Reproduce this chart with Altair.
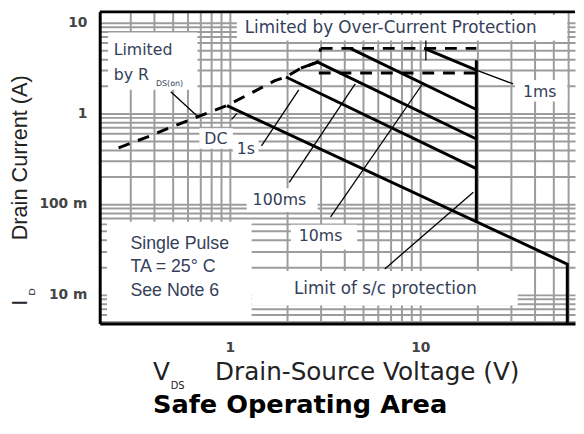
import altair as alt
import pandas as pd

# ---------------- axis ticks / grid ----------------
x_grid = [0.3, 0.4, 0.5, 0.6, 0.7, 0.8, 0.9,
          1, 2, 3, 4, 5, 6, 7, 8, 9,
          10, 20, 30, 40, 50, 60]
y_grid = [0.005, 0.006, 0.007, 0.008, 0.009,
          0.01, 0.02, 0.03, 0.04, 0.05, 0.06, 0.07, 0.08, 0.09,
          0.1, 0.2, 0.3, 0.4, 0.5, 0.6, 0.7, 0.8, 0.9,
          1, 2, 3, 4, 5, 6, 7, 8, 9, 10]
x_tick_values = [1, 10]
x_tick_text = ["1", "10"]
y_tick_values = [10, 1, 0.1, 0.01]
y_tick_text = ["10", "1", "100 m", "10 m"]

# ---------------- curves (V, A) ----------------
rds_v = [0.26, 0.367, 0.507, 0.707, 0.965, 1.33, 1.71, 1.97, 2.36, 2.89, 3.0]
rds_i = [0.417, 0.548, 0.722, 0.951, 1.22, 1.73, 2.28, 2.52, 3.16, 3.68, 5.22]
ocp_hi_v = [3.0, 19.7]
ocp_hi_i = [5.22, 5.22]
ocp_lo_v = [2.93, 19.7]
ocp_lo_i = [2.79, 2.79]

dc_v = [0.965, 59.2, 59.2]
dc_i = [1.22, 0.0217, 0.0048]
s1_v = [1.97, 19.7]
s1_i = [2.52, 0.246]
ms100_v = [2.36, 2.89, 19.7]
ms100_i = [3.16, 3.68, 0.521]
ms10_v = [4.29, 19.7]
ms10_i = [5.22, 1.105]
ms1_v = [10.5, 19.7]
ms1_i = [5.22, 3.01]
sc_v = [19.7, 19.7]
sc_i = [3.87, 0.062]

# leader lines
ld_rds_v = [0.489, 0.675, 0.742]
ld_rds_i = [1.73, 0.928, 0.975]
ld_dc_v = [1.02, 1.09]
ld_dc_i = [0.86, 1.0]
ld_1s_v = [1.465, 2.30]
ld_1s_i = [0.438, 1.82]
ld_100_v = [2.05, 4.55]
ld_100_i = [0.173, 2.12]
ld_10_v = [3.38, 10.2]
ld_10_i = [0.0722, 2.07]
ld_1ms_v = [19.7, 30.7]
ld_1ms_i = [3.01, 2.12]
ld_sc_v = [6.51, 19.0]
ld_sc_i = [0.0192, 0.135]
ld_oc_v = [10.7, 10.7]
ld_oc_i = [6.37, 3.86]

# white label boxes
box_v0 = [0.229, 1.087, 0.691, 1.036, 1.225, 2.09, 0.226, 1.30, 31.4]
box_v1 = [0.675, 59.2, 1.036, 1.413, 2.89, 4.66, 1.30, 32.5, 59.2]
box_i0 = [1.82, 6.37, 0.406, 0.324, 0.0817, 0.0315, 0.0051, 0.0076, 1.35]
box_i1 = [7.8, 12.2, 0.687, 0.509, 0.149, 0.0591, 0.0638, 0.0182, 2.34]

# annotation texts
curve_txt = ["DC", "1s", "100ms", "10ms", "1ms"]
curve_txt_v = [0.733, 1.087, 1.316, 2.30, 34.6]
curve_txt_i = [0.521, 0.407, 0.110, 0.0438, 1.73]
note_txt = ["Limited", "by R", "Limited by Over-Current Protection", "Limit of s/c protection"]
note_txt_v = [0.245, 0.245, 1.196, 2.17]
note_txt_i = [4.96, 2.65, 8.83, 0.0116]
note_txt_size = [16, 16, 17, 17]
sub_txt = ["DS(on)"]
sub_txt_v = [0.409]
sub_txt_i = [2.12]
cond_txt = ["Single Pulse", "TA = 25°  C", "See Note 6"]
cond_txt_v = [0.300, 0.300, 0.300]
cond_txt_i = [0.0358, 0.0201, 0.0110]

W, H = 482, 316
LBL = "#34405a"

xs = alt.Scale(type="log", domain=[0.207, 65])
ys = alt.Scale(type="log", domain=[0.0048, 13.2])


def expr(vals, txts):
    s = "''"
    for v, t in zip(reversed(vals), reversed(txts)):
        s = f"datum.value == {v} ? '{t}' : ({s})"
    return s


x_axis = alt.Axis(values=x_grid, labelExpr=expr(x_tick_values, x_tick_text),
                  grid=True, gridColor="#9c9c9c", gridWidth=2, ticks=False,
                  domain=True, domainColor="black", domainWidth=3,
                  labelFont="DejaVu Sans", labelFontSize=14, labelFontWeight="bold",
                  labelColor="#444", labelPadding=17, labelOverlap=False,
                  labelFlush=False, title=None)
y_axis = alt.Axis(values=y_grid, labelExpr=expr(y_tick_values, y_tick_text),
                  grid=True, gridColor="#9c9c9c", gridWidth=2, ticks=False,
                  domain=True, domainColor="black", domainWidth=3,
                  labelFont="DejaVu Sans", labelFontSize=14, labelFontWeight="bold",
                  labelColor="#444", labelPadding=13, labelOverlap=False,
                  labelFlush=False, title=None)


def X(f):
    return alt.X(f, type="quantitative", scale=xs, axis=x_axis)


def Y(f):
    return alt.Y(f, type="quantitative", scale=ys, axis=y_axis)


def seg_df(segs):
    rows = []
    for name, (vs, is_) in segs.items():
        for k, (v, i) in enumerate(zip(vs, is_)):
            rows.append({"seg": name, "k": k, "v": v, "i": i})
    return pd.DataFrame(rows)


def lines(df, width, dash=None):
    kw = dict(color="black", strokeWidth=width, clip=True, strokeJoin="miter")
    if dash:
        kw["strokeDash"] = dash
    return alt.Chart(df).mark_line(**kw).encode(
        x=X("v"), y=Y("i"), detail="seg:N", order="k:Q")


def texts(t, v, i, size, font="DejaVu Sans", color=LBL, weight="normal"):
    df = pd.DataFrame({"t": t, "v": v, "i": i})
    return alt.Chart(df).mark_text(align="left", baseline="middle", font=font,
                                   fontSize=size, color=color, fontWeight=weight).encode(
        x=X("v"), y=Y("i"), text="t:N")


boxes = alt.Chart(pd.DataFrame({"v": box_v0, "v2": box_v1, "i": box_i0, "i2": box_i1})).mark_rect(
    color="white").encode(x=X("v"), x2="v2", y=Y("i"), y2="i2")

solid = lines(seg_df({"dc": (dc_v, dc_i), "s1": (s1_v, s1_i), "m100": (ms100_v, ms100_i),
                      "m10": (ms10_v, ms10_i), "m1": (ms1_v, ms1_i), "sc": (sc_v, sc_i)}), 3)
dashed = lines(seg_df({"rds": (rds_v, rds_i), "hi": (ocp_hi_v, ocp_hi_i),
                       "lo": (ocp_lo_v, ocp_lo_i)}), 3, [12, 9])
leaders = lines(seg_df({"a": (ld_rds_v, ld_rds_i), "b": (ld_dc_v, ld_dc_i), "c": (ld_1s_v, ld_1s_i),
                        "d": (ld_100_v, ld_100_i), "e": (ld_10_v, ld_10_i), "f": (ld_1ms_v, ld_1ms_i),
                        "g": (ld_sc_v, ld_sc_i), "h": (ld_oc_v, ld_oc_i)}), 1.3)

t_curves = texts(curve_txt, curve_txt_v, curve_txt_i, 16)
t_notes = [texts([t], [v], [i], s) for t, v, i, s in zip(note_txt, note_txt_v, note_txt_i, note_txt_size)]
t_sub = texts(sub_txt, sub_txt_v, sub_txt_i, 8)
t_cond = texts(cond_txt, cond_txt_v, cond_txt_i, 18, font="Liberation Sans")

one = pd.DataFrame({"a": [0]})
top_border = alt.Chart(one).mark_rule(color="black", strokeWidth=3).encode(
    x=alt.value(0), x2=alt.value(W), y=alt.value(0))


def title_text(txt, x, y, size, weight="normal", angle=0, align="left", color="#222",
               font="DejaVu Sans", baseline="alphabetic"):
    return alt.Chart(pd.DataFrame({"t": [txt]})).mark_text(
        align=align, baseline=baseline, fontSize=size, fontWeight=weight, angle=angle,
        color=color, font=font).encode(x=alt.value(x), y=alt.value(y), text="t:N")


titles = [
    title_text("I", -81, 295, 22, angle=270, align="center", baseline="middle",
               font="Liberation Sans"),
    title_text("D", -69, 284, 10, angle=270, align="center", baseline="middle",
               font="Liberation Sans"),
    title_text("Drain Current (A)", -81, 148, 22, angle=270, align="center", baseline="middle",
               font="Liberation Sans"),
    title_text("V", 54, 373, 25),
    title_text("DS", 72, 382, 10),
    title_text("Drain-Source Voltage (V)", 117, 373, 25),
    title_text("Safe Operating Area", 54, 407, 26, weight="bold", color="black"),
]

chart = alt.layer(boxes, solid, dashed, leaders, t_curves, *t_notes, t_sub, t_cond,
                  top_border, *titles).properties(
    width=W, height=H,
    autosize=alt.AutoSizeParams(type="none"),
    padding={"left": 93, "top": 1, "right": 1, "bottom": 97},
    background="white",
).configure_view(stroke=None)

chart.save("out.html", embed_options={"renderer": "svg", "actions": False})
